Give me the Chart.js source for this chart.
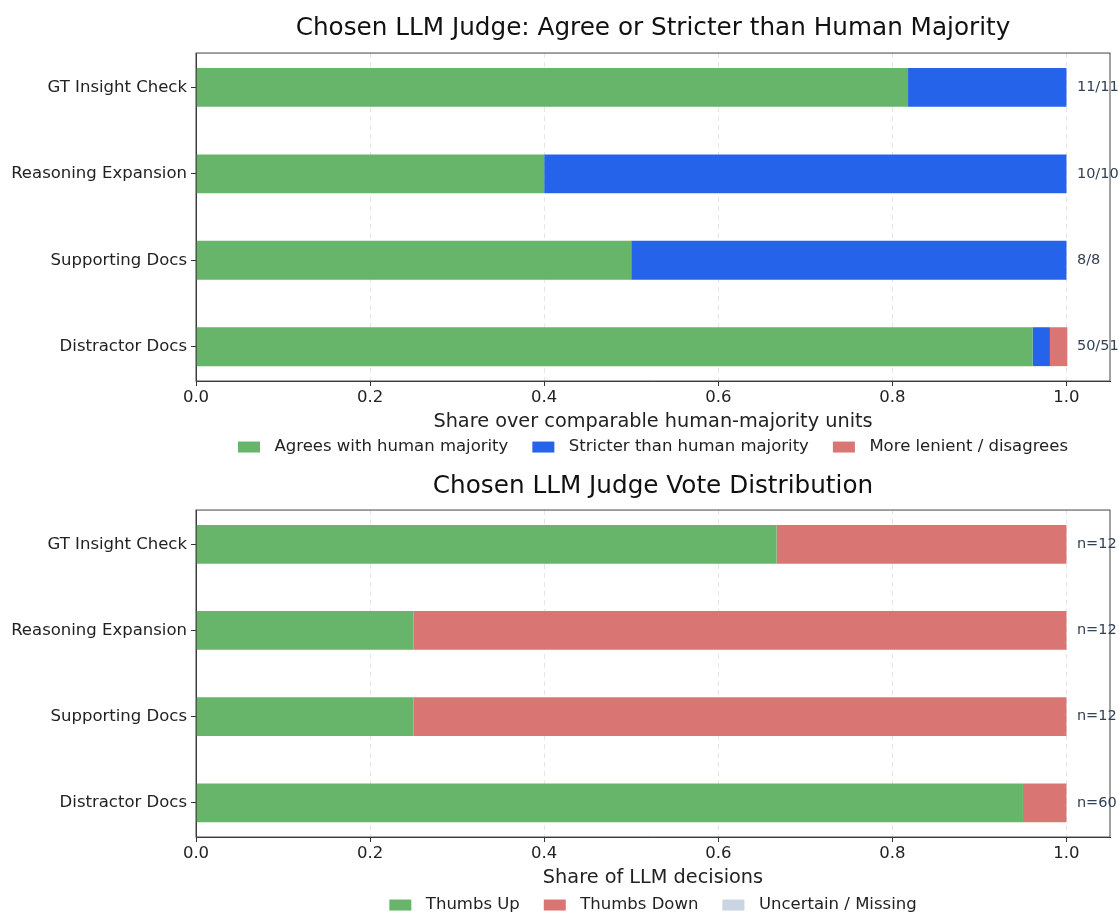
<!DOCTYPE html>
<html>
<head>
<meta charset="utf-8">
<script src="https://cdn.jsdelivr.net/npm/chart.js@4.4.0/dist/chart.umd.min.js"></script>
<style>
    html, body { margin: 0; padding: 0; background: #fff; }
    .wrap { position: relative; width: 1119px; }
    #top-wrap { height: 462px; }
    #bottom-wrap { height: 452px; }
</style>
</head>
<body>
<div class="wrap" id="top-wrap"><canvas id="agree-chart"></canvas></div>
<div class="wrap" id="bottom-wrap"><canvas id="vote-chart"></canvas></div>
<script>
const categories = ["GT Insight Check", "Reasoning Expansion", "Supporting Docs", "Distractor Docs"];

// top panel: share of comparable human-majority units
const agreeShare = [0.818, 0.400, 0.500, 0.961];
const stricterShare = [0.182, 0.600, 0.500, 0.020];
const lenientShare = [0.000, 0.000, 0.000, 0.020];
const agreeLabels = ["11/11", "10/10", "8/8", "50/51"];

// bottom panel: share of LLM decisions
const thumbsUpShare = [0.667, 0.250, 0.250, 0.950];
const thumbsDownShare = [0.333, 0.750, 0.750, 0.050];
const uncertainShare = [0.000, 0.000, 0.000, 0.000];
const voteLabels = ["n=12", "n=12", "n=12", "n=60"];

const xTicks = [0, 0.2, 0.4, 0.6, 0.8, 1.0];

const GREEN = '#67b56a';
const BLUE = '#2563eb';
const RED = '#d97674';
const SLATE = '#cbd5e1';
const FONT = "'DejaVu Sans', sans-serif";

function toPoints(values) {
    return values.map((v, i) => ({ x: v, y: i }));
}

// frame (top/right spines), text at the end of each bar, and a matplotlib-like legend
const sidePlugin = {
    id: 'sideText',
    afterDraw(chart) {
        const { ctx, chartArea, scales } = chart;
        const opts = chart.options.plugins.sideText;
        ctx.save();
        ctx.strokeStyle = '#444';
        ctx.lineWidth = 1;
        ctx.strokeRect(chartArea.left, chartArea.top, chartArea.right - chartArea.left, chartArea.bottom - chartArea.top);

        ctx.fillStyle = '#334155';
        ctx.font = "14.5px " + FONT;
        ctx.textAlign = 'left';
        ctx.textBaseline = 'middle';
        opts.labels.forEach((txt, i) => {
            ctx.fillText(txt, scales.x.getPixelForValue(1.012), scales.y.getPixelForValue(i));
        });

        // legend row
        const boxW = 22, boxH = 11, gap = 14.5, itemGap = 24;
        ctx.font = "16.5px " + FONT;
        const items = chart.data.datasets.map(ds => ({ label: ds.label, color: ds.backgroundColor, w: ctx.measureText(ds.label).width }));
        const total = items.reduce((s, it) => s + boxW + gap + it.w, 0) + itemGap * (items.length - 1);
        let x = (chartArea.left + chartArea.right) / 2 - total / 2;
        const y = chartArea.bottom + opts.legendOffset;
        items.forEach(it => {
            ctx.fillStyle = it.color;
            ctx.fillRect(x, y - boxH / 2, boxW, boxH);
            x += boxW + gap;
            ctx.fillStyle = '#222';
            ctx.fillText(it.label, x, y);
            x += it.w + itemGap;
        });
        ctx.restore();
    }
};

function makeChart(canvasId, titleText, xTitle, series, sideLabels, pads) {
    const ctx = document.getElementById(canvasId).getContext('2d');
    return new Chart(ctx, {
        type: 'bar',
        data: {
            datasets: series.map(s => ({
                label: s.label,
                data: toPoints(s.values),
                backgroundColor: s.color,
                borderWidth: 0,
                barPercentage: 0.45,
                categoryPercentage: 1.0
            }))
        },
        options: {
            indexAxis: 'y',
            responsive: true,
            maintainAspectRatio: false,
            animation: false,
            layout: { padding: { left: 10, right: 9, top: pads.top, bottom: pads.bottom } },
            scales: {
                x: {
                    type: 'linear',
                    stacked: true,
                    min: 0,
                    max: 1.05,
                    afterBuildTicks: scale => { scale.ticks = xTicks.map(v => ({ value: v })); },
                    ticks: {
                        color: '#222',
                        font: { family: FONT, size: 16.5 },
                        padding: 2,
                        callback: v => v.toFixed(1)
                    },
                    grid: {
                        color: '#e6e6e6',
                        tickColor: '#333',
                        tickLength: 5,
                        lineWidth: 1
                    },
                    border: { display: true, color: '#333', dash: [5, 4] },
                    title: {
                        display: true,
                        text: xTitle,
                        color: '#222',
                        font: { family: FONT, size: 19.3 },
                        padding: { top: 1, bottom: 0 }
                    }
                },
                y: {
                    type: 'linear',
                    stacked: true,
                    reverse: true,
                    offset: false,
                    min: -0.3975,
                    max: 3.3975,
                    afterBuildTicks: scale => { scale.ticks = categories.map((c, i) => ({ value: i })); },
                    afterFit: scale => { scale.width = 186; },
                    ticks: {
                        color: '#222',
                        font: { family: FONT, size: 16.5 },
                        padding: 4,
                        callback: v => categories[v]
                    },
                    grid: {
                        offset: false,
                        drawOnChartArea: false,
                        tickColor: '#333',
                        tickLength: 5
                    },
                    border: { display: true, color: '#333' }
                }
            },
            plugins: {
                title: {
                    display: true,
                    text: titleText,
                    fullSize: false,
                    color: '#111',
                    font: { family: FONT, size: 24.7, weight: 'normal' },
                    padding: { top: 0, bottom: pads.titleBottom }
                },
                legend: { display: false },
                tooltip: { enabled: false },
                sideText: { labels: sideLabels, legendOffset: pads.legendOffset }
            }
        },
        plugins: [sidePlugin]
    });
}

makeChart('agree-chart', 'Chosen LLM Judge: Agree or Stricter than Human Majority',
    'Share over comparable human-majority units',
    [
        { label: 'Agrees with human majority', values: agreeShare, color: GREEN },
        { label: 'Stricter than human majority', values: stricterShare, color: BLUE },
        { label: 'More lenient / disagrees', values: lenientShare, color: RED }
    ],
    agreeLabels, { top: 14, bottom: 28, titleBottom: 9.4, legendOffset: 66 });

makeChart('vote-chart', 'Chosen LLM Judge Vote Distribution',
    'Share of LLM decisions',
    [
        { label: 'Thumbs Up', values: thumbsUpShare, color: GREEN },
        { label: 'Thumbs Down', values: thumbsDownShare, color: RED },
        { label: 'Uncertain / Missing', values: uncertainShare, color: SLATE }
    ],
    voteLabels, { top: 10.2, bottom: 24, titleBottom: 8.2, legendOffset: 68 });
</script>
</body>
</html>
